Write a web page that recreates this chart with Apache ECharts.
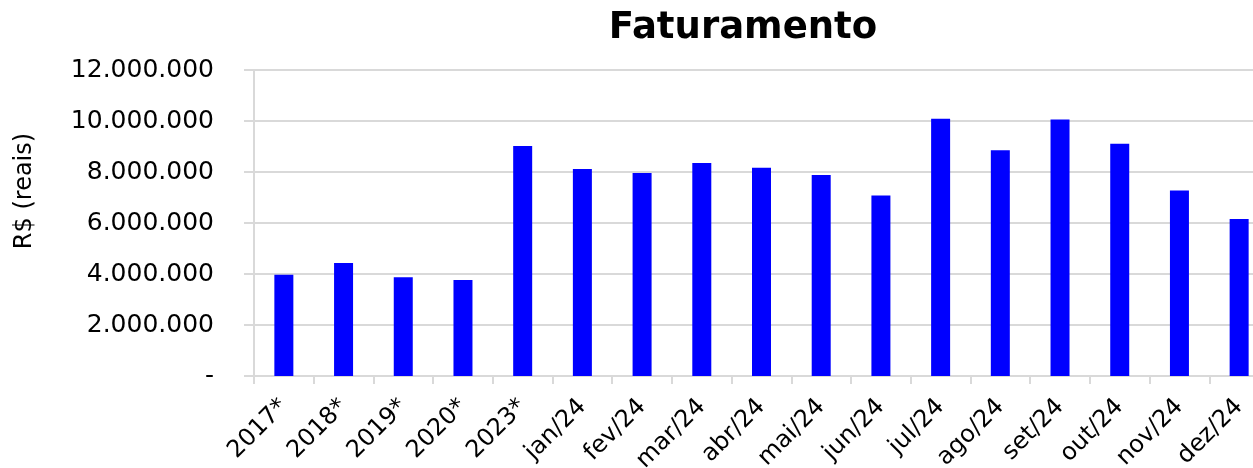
<!DOCTYPE html>
<html>
<head>
<meta charset="utf-8">
<script src="https://cdn.jsdelivr.net/npm/echarts@6/dist/echarts.min.js"></script>
<style>
html,body{margin:0;padding:0;background:#fff;overflow:hidden;width:1253px;height:468px;}
#chart{width:1272px;height:500px;}
</style>
</head>
<body>
<div id="chart"></div>
<script>
const categories = ['2017*','2018*','2019*','2020*','2023*','jan/24','fev/24','mar/24','abr/24','mai/24','jun/24','jul/24','ago/24','set/24','out/24','nov/24','dez/24'];
const faturamento = [3970000,4430000,3870000,3760000,9020000,8120000,7960000,8350000,8170000,7880000,7080000,10090000,8850000,10060000,9110000,7270000,6160000];
const yTicks = [0,2000000,4000000,6000000,8000000,10000000,12000000];
const titleText = 'Faturamento';
const yAxisName = 'R$ (reais)';

function fmt(v){
  if (v === 0) return '-';
  return String(Math.round(v)).replace(/\B(?=(\d{3})+(?!\d))/g, '.');
}

const chart = echarts.init(document.getElementById('chart'), null, {renderer:'canvas'});
chart.setOption({
  animation:false,
  backgroundColor:'#ffffff',
  title:{
    text:titleText,
    left:738, top:5, textAlign:'center',
    textStyle:{fontFamily:'DejaVu Sans', fontWeight:'bold', fontSize:37, color:'#000'}
  },
  graphic:[{
    type:'text',
    x:25, y:191, rotation:Math.PI/2,
    style:{text:yAxisName, fontFamily:'DejaVu Sans', fontSize:24, fill:'#000', align:'center', verticalAlign:'middle'}
  }],
  grid:{left:254, top:70, height:306, width:1015, containLabel:false, outerBoundsMode:'none'},
  xAxis:{
    type:'category',
    data:categories,
    axisLine:{show:true, lineStyle:{color:'#d9d9d9', width:2}},
    axisTick:{show:true, length:8, lineStyle:{color:'#d9d9d9', width:2}},
    axisLabel:{rotate:45, margin:27, fontFamily:'DejaVu Sans', fontSize:24, color:'#000', interval:0}
  },
  yAxis:{
    type:'value',
    min:yTicks[0], max:yTicks[yTicks.length-1], interval:yTicks[1]-yTicks[0],
    axisLine:{show:true, lineStyle:{color:'#d9d9d9', width:2}},
    axisTick:{show:true, length:10, lineStyle:{color:'#d9d9d9', width:2}},
    splitLine:{show:true, lineStyle:{color:'#d9d9d9', width:2}},
    axisLabel:{margin:40, fontFamily:'DejaVu Sans', fontSize:25, color:'#000', formatter:fmt}
  },
  series:[{
    type:'bar',
    data:faturamento,
    barWidth:19,
    itemStyle:{color:'#0000ff'}
  }]
});
</script>
</body>
</html>
